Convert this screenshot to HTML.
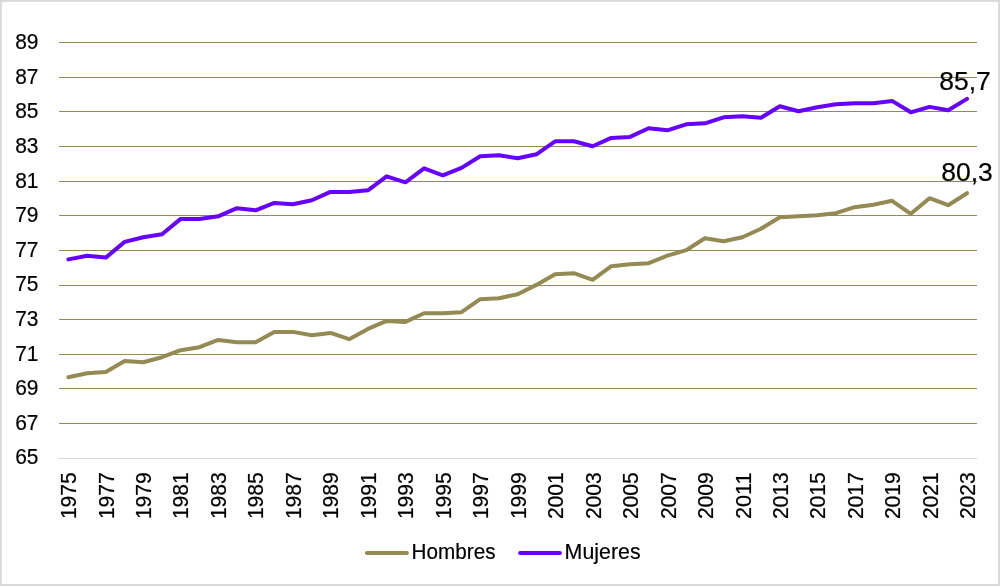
<!DOCTYPE html>
<html lang="es">
<head>
<meta charset="utf-8">
<title>Esperanza de vida</title>
<style>
html,body{margin:0;padding:0;background:#fff;}
body{width:1000px;height:586px;overflow:hidden;}
#chart{position:absolute;left:0;top:0;width:1000px;height:586px;box-sizing:border-box;background:#fff;}
svg{display:block;}
text{font-family:"Liberation Sans",sans-serif;fill:#000;stroke:#000;stroke-width:0.2px;}
.ax{font-size:22px;}
.dl{font-size:25px;}
.xl{font-size:21.2px;}
.lg{font-size:21.4px;}
</style>
</head>
<body>
<div id="chart">
<svg width="1000" height="586" viewBox="0 0 1000 586">
<rect x="0" y="0" width="1000" height="586" fill="#d9d9d9"/>
<rect x="1.8" y="1.8" width="996.3" height="582.2" fill="#ffffff"/>

<g fill="#948a54">
<rect x="59" y="42" width="918" height="1"/>
<rect x="59" y="77" width="918" height="1"/>
<rect x="59" y="111" width="918" height="1"/>
<rect x="59" y="146" width="918" height="1"/>
<rect x="59" y="181" width="918" height="1"/>
<rect x="59" y="215" width="918" height="1"/>
<rect x="59" y="250" width="918" height="1"/>
<rect x="59" y="285" width="918" height="1"/>
<rect x="59" y="319" width="918" height="1"/>
<rect x="59" y="354" width="918" height="1"/>
<rect x="59" y="388" width="918" height="1"/>
<rect x="59" y="423" width="918" height="1"/>
</g>
<rect x="59" y="458" width="918" height="1" fill="#d9d9d9"/>
<g class="ax" text-anchor="start">
<text x="15.2" y="48.8" textLength="23.3" lengthAdjust="spacingAndGlyphs">89</text>
<text x="15.2" y="83.8" textLength="23.3" lengthAdjust="spacingAndGlyphs">87</text>
<text x="15.2" y="117.8" textLength="23.3" lengthAdjust="spacingAndGlyphs">85</text>
<text x="15.2" y="152.8" textLength="23.3" lengthAdjust="spacingAndGlyphs">83</text>
<text x="15.2" y="187.8" textLength="23.3" lengthAdjust="spacingAndGlyphs">81</text>
<text x="15.2" y="221.8" textLength="23.3" lengthAdjust="spacingAndGlyphs">79</text>
<text x="15.2" y="256.8" textLength="23.3" lengthAdjust="spacingAndGlyphs">77</text>
<text x="15.2" y="290.8" textLength="23.3" lengthAdjust="spacingAndGlyphs">75</text>
<text x="15.2" y="325.8" textLength="23.3" lengthAdjust="spacingAndGlyphs">73</text>
<text x="15.2" y="360.8" textLength="23.3" lengthAdjust="spacingAndGlyphs">71</text>
<text x="15.2" y="394.8" textLength="23.3" lengthAdjust="spacingAndGlyphs">69</text>
<text x="15.2" y="429.8" textLength="23.3" lengthAdjust="spacingAndGlyphs">67</text>
<text x="15.2" y="463.8" textLength="23.3" lengthAdjust="spacingAndGlyphs">65</text>
</g>
<g class="xl" text-anchor="start">
<text transform="translate(76.0,519.1) rotate(-90)" textLength="46.8" lengthAdjust="spacingAndGlyphs">1975</text>
<text transform="translate(113.5,519.1) rotate(-90)" textLength="46.8" lengthAdjust="spacingAndGlyphs">1977</text>
<text transform="translate(150.9,519.1) rotate(-90)" textLength="46.8" lengthAdjust="spacingAndGlyphs">1979</text>
<text transform="translate(188.4,519.1) rotate(-90)" textLength="46.8" lengthAdjust="spacingAndGlyphs">1981</text>
<text transform="translate(225.9,519.1) rotate(-90)" textLength="46.8" lengthAdjust="spacingAndGlyphs">1983</text>
<text transform="translate(263.4,519.1) rotate(-90)" textLength="46.8" lengthAdjust="spacingAndGlyphs">1985</text>
<text transform="translate(300.8,519.1) rotate(-90)" textLength="46.8" lengthAdjust="spacingAndGlyphs">1987</text>
<text transform="translate(338.3,519.1) rotate(-90)" textLength="46.8" lengthAdjust="spacingAndGlyphs">1989</text>
<text transform="translate(375.8,519.1) rotate(-90)" textLength="46.8" lengthAdjust="spacingAndGlyphs">1991</text>
<text transform="translate(413.2,519.1) rotate(-90)" textLength="46.8" lengthAdjust="spacingAndGlyphs">1993</text>
<text transform="translate(450.7,519.1) rotate(-90)" textLength="46.8" lengthAdjust="spacingAndGlyphs">1995</text>
<text transform="translate(488.2,519.1) rotate(-90)" textLength="46.8" lengthAdjust="spacingAndGlyphs">1997</text>
<text transform="translate(525.6,519.1) rotate(-90)" textLength="46.8" lengthAdjust="spacingAndGlyphs">1999</text>
<text transform="translate(563.1,519.1) rotate(-90)" textLength="46.8" lengthAdjust="spacingAndGlyphs">2001</text>
<text transform="translate(600.6,519.1) rotate(-90)" textLength="46.8" lengthAdjust="spacingAndGlyphs">2003</text>
<text transform="translate(638.0,519.1) rotate(-90)" textLength="46.8" lengthAdjust="spacingAndGlyphs">2005</text>
<text transform="translate(675.5,519.1) rotate(-90)" textLength="46.8" lengthAdjust="spacingAndGlyphs">2007</text>
<text transform="translate(713.0,519.1) rotate(-90)" textLength="46.8" lengthAdjust="spacingAndGlyphs">2009</text>
<text transform="translate(750.5,519.1) rotate(-90)" textLength="46.8" lengthAdjust="spacingAndGlyphs">2011</text>
<text transform="translate(787.9,519.1) rotate(-90)" textLength="46.8" lengthAdjust="spacingAndGlyphs">2013</text>
<text transform="translate(825.4,519.1) rotate(-90)" textLength="46.8" lengthAdjust="spacingAndGlyphs">2015</text>
<text transform="translate(862.9,519.1) rotate(-90)" textLength="46.8" lengthAdjust="spacingAndGlyphs">2017</text>
<text transform="translate(900.3,519.1) rotate(-90)" textLength="46.8" lengthAdjust="spacingAndGlyphs">2019</text>
<text transform="translate(937.8,519.1) rotate(-90)" textLength="46.8" lengthAdjust="spacingAndGlyphs">2021</text>
<text transform="translate(975.3,519.1) rotate(-90)" textLength="46.8" lengthAdjust="spacingAndGlyphs">2023</text>
</g>
<polyline fill="none" stroke="#948a54" stroke-width="4" stroke-linecap="round" stroke-linejoin="round" points="68.4,377.2 87.1,373.2 105.8,371.9 124.6,360.9 143.3,362.2 162.0,357.2 180.7,350.2 199.4,347.2 218.2,339.9 236.9,342.2 255.6,342.2 274.3,331.9 293.0,331.9 311.8,335.2 330.5,332.9 349.2,339.2 367.9,328.9 386.6,320.9 405.4,321.9 424.1,313.2 442.8,313.2 461.5,312.2 480.2,299.2 499.0,298.2 517.7,294.2 536.4,284.9 555.1,274.2 573.8,273.2 592.6,279.8 611.3,266.2 630.0,264.2 648.7,263.2 667.4,255.7 686.2,250.2 704.9,238.2 723.6,241.2 742.3,237.2 761.0,228.8 779.8,217.2 798.5,216.2 817.2,215.2 835.9,213.2 854.6,207.2 873.4,204.8 892.1,200.8 910.8,213.8 929.5,198.2 948.2,205.2 967.0,193.2"/>
<polyline fill="none" stroke="#6600ff" stroke-width="4" stroke-linecap="round" stroke-linejoin="round" points="68.4,259.4 87.1,255.8 105.8,257.6 124.6,241.9 143.3,237.3 162.0,234.3 180.7,218.9 199.4,218.9 218.2,216.3 236.9,208.2 255.6,210.3 274.3,202.9 293.0,204.3 311.8,200.3 330.5,191.9 349.2,191.9 367.9,190.3 386.6,176.3 405.4,182.3 424.1,168.3 442.8,175.3 461.5,167.9 480.2,156.3 499.0,155.3 517.7,158.3 536.4,154.3 555.1,141.3 573.8,141.3 592.6,146.3 611.3,137.9 630.0,136.9 648.7,128.3 667.4,130.3 686.2,124.3 704.9,123.3 723.6,117.3 742.3,116.3 761.0,117.8 779.8,106.3 798.5,111.3 817.2,107.3 835.9,104.3 854.6,103.3 873.4,103.3 892.1,100.9 910.8,112.3 929.5,106.9 948.2,110.3 967.0,98.9"/>
<text class="dl" x="939.2" y="89.6" textLength="51.6" lengthAdjust="spacingAndGlyphs">85,7</text>
<text class="dl" x="941.2" y="180.6" textLength="51.6" lengthAdjust="spacingAndGlyphs">80,3</text>
<line x1="366.9" y1="553" x2="406.9" y2="553" stroke="#948a54" stroke-width="4" stroke-linecap="round"/>
<text class="lg" x="411.6" y="558.8" textLength="84" lengthAdjust="spacingAndGlyphs">Hombres</text>
<line x1="520.1" y1="553" x2="559.9" y2="553" stroke="#6600ff" stroke-width="4" stroke-linecap="round"/>
<text class="lg" x="564.6" y="558.8" textLength="76" lengthAdjust="spacingAndGlyphs">Mujeres</text>
</svg>
</div>
</body>
</html>
